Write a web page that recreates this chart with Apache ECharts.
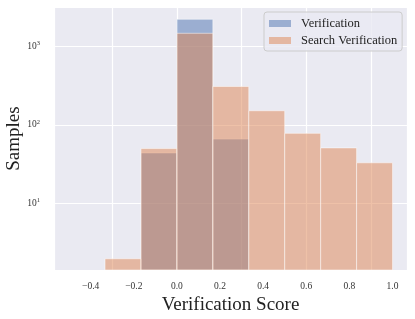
<!DOCTYPE html>
<html><head><meta charset="utf-8">
<script src="https://cdn.jsdelivr.net/npm/echarts@6/dist/echarts.min.js"></script>
<style>html,body{margin:0;padding:0;background:#fff}#c{width:415px;height:319px}</style>
</head><body><div id="c"></div>
<script>
var binEdges = [-1/3, -1/6, 0, 1/6, 1/3, 1/2, 2/3, 5/6, 1];
var verificationCounts = [0, 44, 2185, 66, 0, 0, 0, 0];
var searchCounts = [2, 50, 1450, 307, 151, 78, 51, 33];
var seriesNames = ['Verification', 'Search Verification'];
var xTicks = [-0.4, -0.2, 0.0, 0.2, 0.4, 0.6, 0.8, 1.0];
var yTicks = [10, 100, 1000];

var Y_MIN = 1.44, Y_MAX = 3127;
var FONT = '"Liberation Serif", "DejaVu Serif", serif';

function histData(counts) {
  var d = [];
  for (var i = 0; i < counts.length; i++) {
    if (counts[i] > 0) d.push([binEdges[i], binEdges[i + 1], counts[i]]);
  }
  return d;
}
function renderBar(params, api) {
  var p0 = api.coord([api.value(0), Y_MIN]);
  var p1 = api.coord([api.value(1), api.value(2)]);
  return {
    type: 'rect',
    shape: { x: p0[0], y: p1[1], width: p1[0] - p0[0], height: p0[1] - p1[1] },
    style: { fill: api.visual('color'), stroke: 'rgba(255,255,255,0.5)', lineWidth: 1 }
  };
}
var chart = echarts.init(document.getElementById('c'), null, { renderer: 'canvas' });
chart.setOption({
  animation: false,
  backgroundColor: '#ffffff',
  grid: { left: 54, right: 8, top: 7, bottom: 49, backgroundColor: '#EAEAF2', show: true, borderWidth: 0,
          containLabel: false, outerBoundsMode: 'none' },
  xAxis: {
    type: 'value', min: -0.57, max: 1.067,
    axisLine: { show: false }, axisTick: { show: false },
    splitLine: { show: true, lineStyle: { color: '#ffffff', width: 1.2 } },
    axisLabel: {
      fontFamily: FONT, fontSize: 9.5, color: '#333', margin: 11,
      customValues: xTicks,
      formatter: function (v) { return (v < 0 ? '\u2212' : '') + Math.abs(v).toFixed(1); }
    },
    axisPointer: { show: false },
    name: 'Verification Score', nameLocation: 'middle', nameGap: 24,
    nameTextStyle: { fontFamily: FONT, fontSize: 19, color: '#222' }
  },
  yAxis: {
    type: 'log', logBase: 10, min: Y_MIN, max: Y_MAX,
    axisLine: { show: false }, axisTick: { show: false },
    splitLine: { show: true, lineStyle: { color: '#ffffff', width: 1.2 } },
    axisLabel: {
      fontFamily: FONT, fontSize: 9.5, color: '#333', margin: 14,
      customValues: yTicks,
      formatter: function (v) {
        var e = Math.round(Math.log10(v));
        return '{b|10}{s|' + e + '}';
      },
      rich: {
        b: { fontFamily: FONT, fontSize: 9.5, color: '#333' },
        s: { fontFamily: FONT, fontSize: 6.5, color: '#333', padding: [0, 0, 6, 0] }
      }
    },
    name: 'Samples', nameLocation: 'middle', nameGap: 30, nameMoveOverlap: false,
    nameTextStyle: { fontFamily: FONT, fontSize: 19, color: '#222' }
  },
  legend: {
    data: seriesNames, orient: 'vertical', left: 264, top: 12,
    icon: 'rect', itemWidth: 22, itemHeight: 7, itemGap: 4,
    padding: [5, 5, 4, 5],
    backgroundColor: 'rgba(234,234,242,0.8)', borderColor: '#cccccc', borderWidth: 1, borderRadius: 3,
    textStyle: { fontFamily: FONT, fontSize: 12.5, color: '#222', padding: [0, 0, 0, 5] }
  },
  series: [
    { name: seriesNames[0], type: 'custom', renderItem: renderBar, data: histData(verificationCounts),
      encode: { x: [0, 1], y: 2 }, itemStyle: { color: 'rgba(76,114,176,0.5)' } },
    { name: seriesNames[1], type: 'custom', renderItem: renderBar, data: histData(searchCounts),
      encode: { x: [0, 1], y: 2 }, itemStyle: { color: 'rgba(221,132,82,0.5)' } }
  ]
});
</script></body></html>
